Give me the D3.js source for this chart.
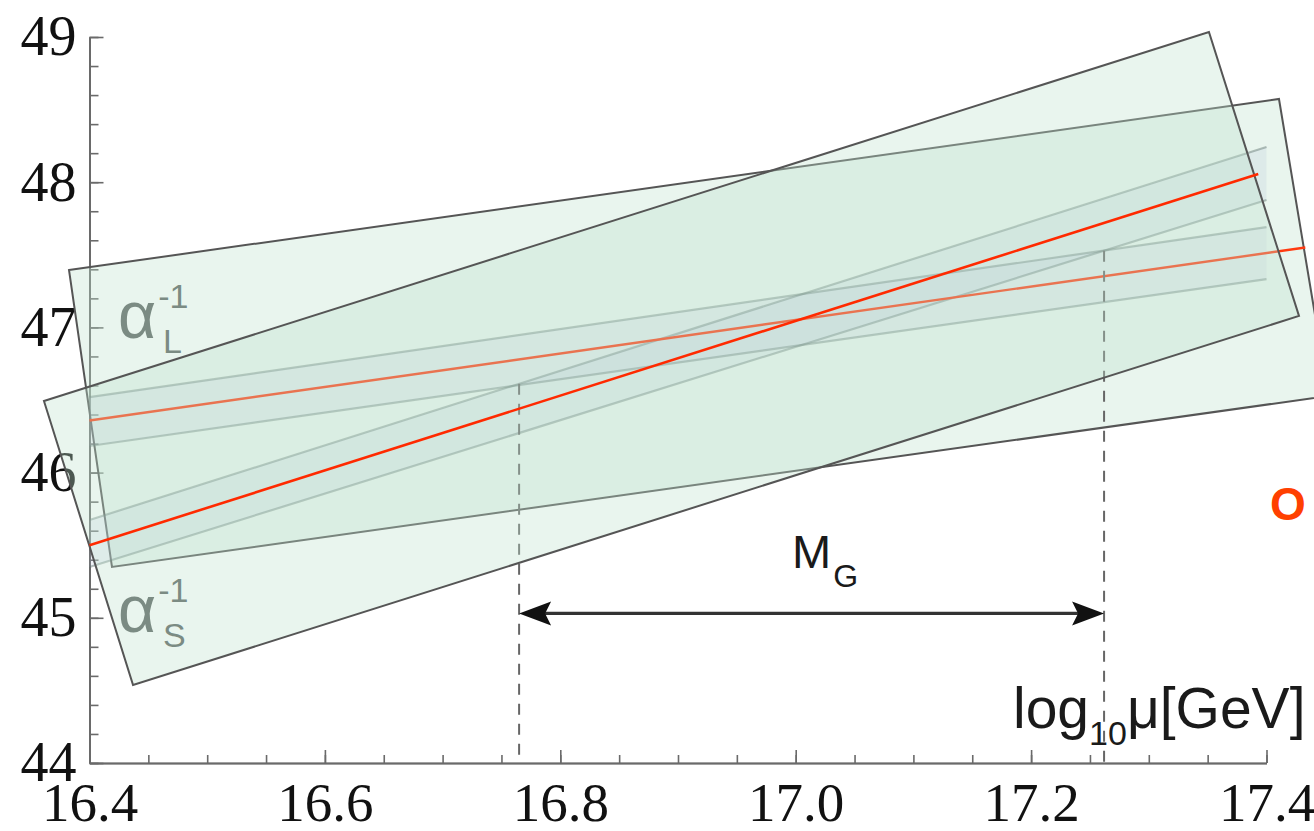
<!DOCTYPE html>
<html>
<head>
<meta charset="utf-8">
<script src="https://cdn.jsdelivr.net/npm/d3@7"></script>
<style>
  html, body { margin: 0; padding: 0; background: #fff; }
  svg { display: block; }
  svg text.tk { font-family: "Liberation Serif", "DejaVu Serif", "Times New Roman", serif !important; }
</style>
</head>
<body>
<svg id="chart" width="1314" height="831"></svg>
<script>
// ---------- data ----------
const xTicks = [16.4, 16.6, 16.8, 17.0, 17.2, 17.4];
const xTickLabels = ["16.4", "16.6", "16.8", "17.0", "17.2", "17.4"];
const yTicks = [44, 45, 46, 47, 48, 49];
const yTickLabels = ["44", "45", "46", "47", "48", "49"];

// central lines (log10 mu, inverse coupling)
const alphaSCentral = [[16.4, 45.50], [17.393, 48.057]];
const alphaLCentral = [[16.4, 46.359], [17.433, 47.550]];
// uncertainty band edges
const alphaSUpper = [[16.4, 45.674], [17.4, 48.242]];
const alphaSLower = [[16.4, 45.350], [17.4, 47.877]];
const alphaLUpper = [[16.4, 46.520], [17.4, 47.691]];
const alphaLLower = [[16.4, 46.183], [17.4, 47.333]];
// tilted shaded boxes (corners in data units)
const boxL = [[16.3826, 47.395], [17.4106, 48.573], [17.4527, 46.528], [16.4191, 45.350]];
const boxS = [[16.3613, 46.493], [17.3511, 49.034], [17.4276, 47.079], [16.4370, 44.537]];
// unification range M_G
const mgRange = [16.765, 17.262];
const arrowLevel = 45.03;

// ---------- scales ----------
const svg = d3.select("#chart");
const x = d3.scaleLinear().domain([16.4, 17.4]).range([89.5, 1266.5]);
const y = d3.scaleLinear().domain([44, 49]).range([763, 37]);
const line = d3.line().x(d => x(d[0])).y(d => y(d[1]));
const interp = (seg, xv) => seg[0][1] + (seg[1][1] - seg[0][1]) * (xv - seg[0][0]) / (seg[1][0] - seg[0][0]);

const axisColor = "#6a6a6a";
const sans = "Liberation Sans, Arial, sans-serif";

// ---------- axes (drawn underneath the shaded boxes) ----------
const gAx = svg.append("g");
const xMinor = d3.range(16.4, 17.4001, 0.05).map(v => +v.toFixed(2));
const yMinor = d3.range(44, 49.001, 0.2).map(v => +v.toFixed(1));

gAx.append("g").attr("transform", `translate(0,${y(44)})`)
  .call(d3.axisBottom(x).tickValues(xMinor).tickSize(-8).tickSizeOuter(0).tickFormat(""))
  .call(g => g.selectAll("line,path").attr("stroke", axisColor).attr("stroke-width", 1.6));
gAx.append("g").attr("transform", `translate(0,${y(44)})`)
  .call(d3.axisBottom(x).tickValues(xTicks).tickSize(-13).tickSizeOuter(0).tickPadding(19)
        .tickFormat((d, i) => xTickLabels[i]))
  .attr("font-family", "Liberation Serif").attr("font-size", 55)
  .call(g => g.select(".domain").attr("stroke", axisColor).attr("stroke-width", 2))
  .call(g => g.selectAll(".tick line").attr("stroke", axisColor).attr("stroke-width", 1.6))
  .call(g => g.selectAll("text").attr("class", "tk").attr("fill", "#111"));

gAx.append("g").attr("transform", `translate(${x(16.4)},0)`)
  .call(d3.axisLeft(y).tickValues(yMinor).tickSize(-9).tickSizeOuter(0).tickFormat(""))
  .call(g => g.selectAll("line,path").attr("stroke", axisColor).attr("stroke-width", 1.6));
gAx.append("g").attr("transform", `translate(${x(16.4)},0)`)
  .call(d3.axisLeft(y).tickValues(yTicks).tickSize(-14).tickSizeOuter(0).tickPadding(13)
        .tickFormat((d, i) => yTickLabels[i]))
  .attr("font-family", "Liberation Serif").attr("font-size", 56)
  .call(g => g.select(".domain").attr("stroke", axisColor).attr("stroke-width", 2))
  .call(g => g.selectAll(".tick line").attr("stroke", axisColor).attr("stroke-width", 1.6))
  .call(g => g.selectAll("text").attr("class", "tk").attr("fill", "#111"));

// ---------- box for alpha_L ----------
const boxFill = "rgba(190,225,205,0.34)";
const boxStroke = "#555";
svg.append("path").attr("d", line(boxL) + "Z")
  .attr("fill", boxFill).attr("stroke", boxStroke).attr("stroke-width", 2);

// ---------- bands ----------
const band = (up, lo) => line(up.concat(lo.slice().reverse())) + "Z";
svg.append("path").attr("d", band(alphaLUpper, alphaLLower))
  .attr("fill", "rgba(175,190,215,0.18)");
svg.append("path").attr("d", band(alphaSUpper, alphaSLower))
  .attr("fill", "rgba(175,190,215,0.2)");
[alphaLUpper, alphaLLower, alphaSUpper, alphaSLower].forEach(s => {
  svg.append("path").attr("d", line(s)).attr("fill", "none")
    .attr("stroke", "rgba(95,115,110,0.45)").attr("stroke-width", 2.2);
});

// alpha_L central line (under the second box -> appears orange)
svg.append("path").attr("d", line(alphaLCentral)).attr("fill", "none")
  .attr("stroke", "#ff3a10").attr("stroke-width", 2.4);

// ---------- dashed M_G markers ----------
const mgTops = [interp(alphaSUpper, mgRange[0]), interp(alphaSLower, mgRange[1])];
mgRange.forEach((v, i) => {
  svg.append("line")
    .attr("x1", x(v)).attr("x2", x(v))
    .attr("y1", y(mgTops[i])).attr("y2", y(44))
    .attr("stroke", "#666").attr("stroke-width", 2).attr("stroke-dasharray", "11,9");
});

// ---------- box for alpha_S (on top) ----------
svg.append("path").attr("d", line(boxS) + "Z")
  .attr("fill", boxFill).attr("stroke", boxStroke).attr("stroke-width", 2);

// alpha_S central line
svg.append("path").attr("d", line(alphaSCentral)).attr("fill", "none")
  .attr("stroke", "#ff2a00").attr("stroke-width", 2.6);

// ---------- M_G arrow ----------
const ay = y(arrowLevel), ax0 = x(mgRange[0]), ax1 = x(mgRange[1]);
svg.append("line").attr("x1", ax0 + 20).attr("x2", ax1 - 20).attr("y1", ay).attr("y2", ay)
  .attr("stroke", "#333").attr("stroke-width", 3.2);
svg.append("path").attr("d", `M${ax0},${ay} L${ax0 + 32},${ay - 12} L${ax0 + 26},${ay} L${ax0 + 32},${ay + 12} Z`)
  .attr("fill", "#111");
svg.append("path").attr("d", `M${ax1},${ay} L${ax1 - 32},${ay - 12} L${ax1 - 26},${ay} L${ax1 - 32},${ay + 12} Z`)
  .attr("fill", "#111");

// ---------- labels ----------
const mg = svg.append("text").attr("x", 792).attr("y", 568)
  .attr("font-family", sans).attr("font-size", 47).attr("fill", "#1a1a1a");
mg.append("tspan").text("M");
mg.append("tspan").attr("font-size", 32).attr("dx", 2).attr("dy", 19).text("G");

const xl = svg.append("text").attr("x", 1013).attr("y", 728)
  .attr("font-family", sans).attr("font-size", 57).attr("fill", "#1a1a1a");
xl.append("tspan").text("log");
xl.append("tspan").attr("font-size", 34).attr("dy", 17).text("10");
xl.append("tspan").attr("dy", -17).text("μ[GeV]");

const labColor = "#7b8b83";
function alphaLabel(px, py, sub) {
  const t = svg.append("text").attr("x", px).attr("y", py)
    .attr("font-family", sans).attr("font-size", 66).attr("fill", labColor);
  t.append("tspan").text("α");
  t.append("tspan").attr("font-size", 34).attr("dx", 2).attr("dy", -30).text("-1");
  svg.append("text").attr("x", px + 45).attr("y", py + 15)
    .attr("font-family", sans).attr("font-size", 34).attr("fill", labColor).text(sub);
}
alphaLabel(118, 338, "L");
alphaLabel(118, 632, "S");

// stray orange letter on the right edge
svg.append("text").attr("x", 1288).attr("y", 520).attr("text-anchor", "middle")
  .attr("font-family", sans).attr("font-weight", "bold").attr("font-size", 46)
  .attr("fill", "#ff4000").text("O");
</script>
</body>
</html>
